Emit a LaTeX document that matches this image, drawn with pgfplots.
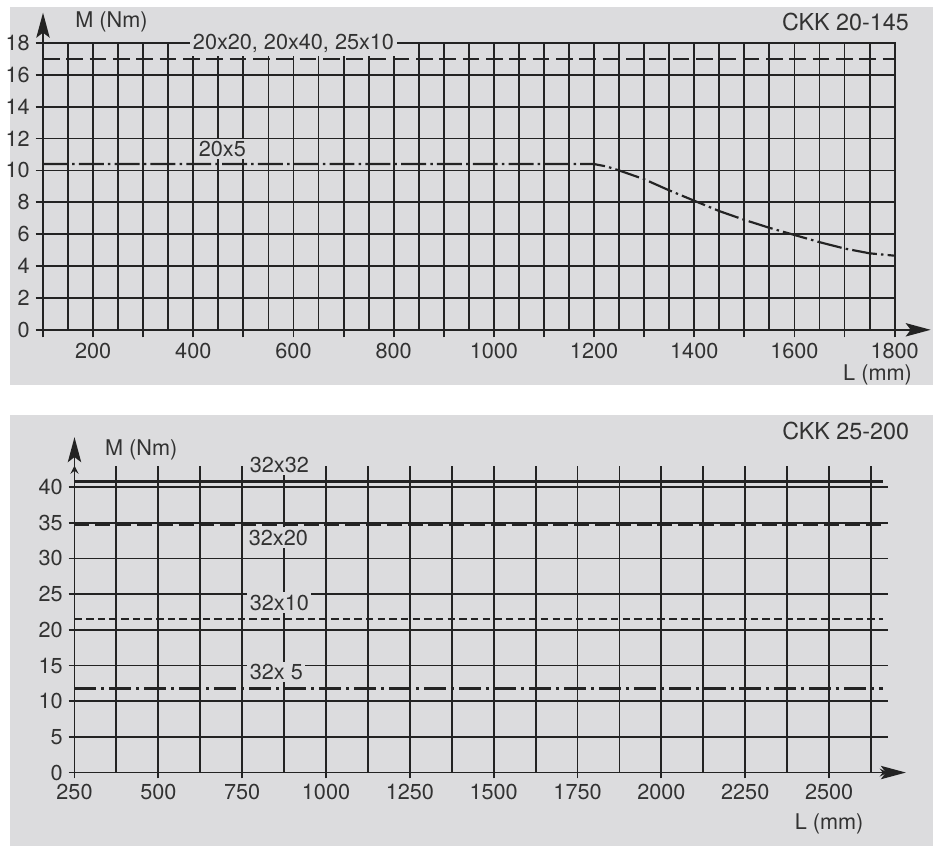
\documentclass[border=0pt]{standalone}
\usepackage{fontspec}
\setmainfont{TeX Gyre Heros}
\usepackage{pgfplots}
\pgfplotsset{compat=1.18}
\usetikzlibrary{arrows.meta}
\definecolor{bg}{RGB}{220,220,222}
\definecolor{ink}{RGB}{35,35,35}
\definecolor{txt}{RGB}{50,50,50}
\tikzset{
 lab/.style={fill=bg, inner sep=1.5pt, text=txt, font=\fontsize{13}{15}\selectfont},
 arr/.style={ink, line width=1.1pt, -{Stealth[length=15pt,width=8pt,inset=3pt]}},
}
\pgfplotsset{
 ckk/.style={
   /pgf/number format/assume math mode=true,
   /pgf/number format/1000 sep={},
   ticklabel style={font=\fontsize{13}{15}\selectfont, text=txt},
   tick align=outside,
   tick style={ink, line width=1.1pt},
   major grid style={ink, line width=1.1pt},
   minor grid style={ink, line width=1.1pt},
   minor tick length=0pt,
   clip=false,
   axis line style={ink, line width=1.1pt, -},
 },
}
\begin{document}
\begin{tikzpicture}[x=0.6pt,y=0.6pt]
\path (0,0) rectangle (933,846);
\fill[bg] (9,461) rectangle (933,839);
\fill[bg] (9,0) rectangle (933,431);
% ---------------- top chart ----------------
\begin{axis}[ckk, at={(25.5pt,309.6pt)}, anchor=south west,
  x=0.30075pt, y=9.567pt, xmin=100, xmax=1800, ymin=0, ymax=18,
  xtick={100,200,...,1800}, minor xtick={150,250,...,1750},
  xticklabels={{},200,{},400,{},600,{},800,{},1000,{},1200,{},1400,{},1600,{},1800},
  ytick={0,2,...,18},
  grid=both, xtick pos=bottom, ytick pos=left,
  major tick length=4.5pt]
\addplot[ink, line width=1.3pt, dash pattern=on 10pt off 4pt] coordinates {(100,17) (1800,17)};
\addplot[ink, line width=1.3pt, dash pattern=on 15pt off 2.5pt on 1.5pt off 2.5pt] coordinates {
 (100,10.4) (1200,10.4) (1225,10.25) (1250,10.0) (1300,9.45) (1350,8.75) (1400,8.1) (1450,7.45)
 (1500,6.9) (1550,6.4) (1600,5.95) (1650,5.5) (1700,5.1) (1750,4.8) (1800,4.65)};
\draw[arr] (axis cs:100,0) -- (axis cs:1872,0);
\draw[arr] (axis cs:100,0) -- (axis cs:100,19.9);
\node[lab, anchor=west] at (axis cs:159,19.3) {M (Nm)};
\node[lab] at (axis cs:600,17.95) {20x20, 20x40, 25x10};
\node[lab] at (axis cs:458,11.35) {20x5};
\node[text=txt, anchor=east, font=\fontsize{14}{16}\selectfont] at (axis cs:1840,19.3) {CKK 20-145};
\node[text=txt, anchor=east, font=\fontsize{13}{15}\selectfont] at (axis cs:1846,-2.8) {L (mm)};
\end{axis}
% ---------------- bottom chart ----------------
\begin{axis}[ckk, at={(44.4pt,43.8pt)}, anchor=south west,
  x=0.20134pt, y=4.284pt, xmin=250, xmax=2675, ymin=0, ymax=43,
  axis x line=bottom, axis y line=left,
  xtick={250,500,...,2500}, minor xtick={375,625,...,2625},
  ytick={0,5,...,40},
  grid=both, major tick length=7pt]
\addplot[ink, line width=2.2pt] coordinates {(250,40.8) (2660,40.8)};
\addplot[ink, line width=1.4pt, dash pattern=on 9pt off 3.5pt] coordinates {(250,34.7) (2660,34.7)};
\addplot[ink, line width=1.2pt, dash pattern=on 4.5pt off 2.5pt] coordinates {(250,21.5) (2660,21.5)};
\addplot[ink, line width=2.2pt, dash pattern=on 13pt off 3pt on 2pt off 3pt] coordinates {(250,11.8) (2660,11.8)};
\draw[arr] (axis cs:250,0) -- (axis cs:2729,0);
\draw[arr] (axis cs:250,0) -- (axis cs:250,47);
\node[lab, anchor=west] at (axis cs:333,45.2) {M (Nm)};
\node[lab] at (axis cs:861,43.1) {32x32};
\node[lab] at (axis cs:858,32.9) {32x20};
\node[lab] at (axis cs:861,23.8) {32x10};
\node[lab] at (axis cs:852,14.1) {32x 5};
\node[text=txt, anchor=east, font=\fontsize{14}{16}\selectfont] at (axis cs:2756,47.9) {CKK 25-200};
\node[text=txt, anchor=east, font=\fontsize{13}{15}\selectfont] at (axis cs:2620,-7.2) {L (mm)};
\end{axis}
\end{tikzpicture}
\end{document}
